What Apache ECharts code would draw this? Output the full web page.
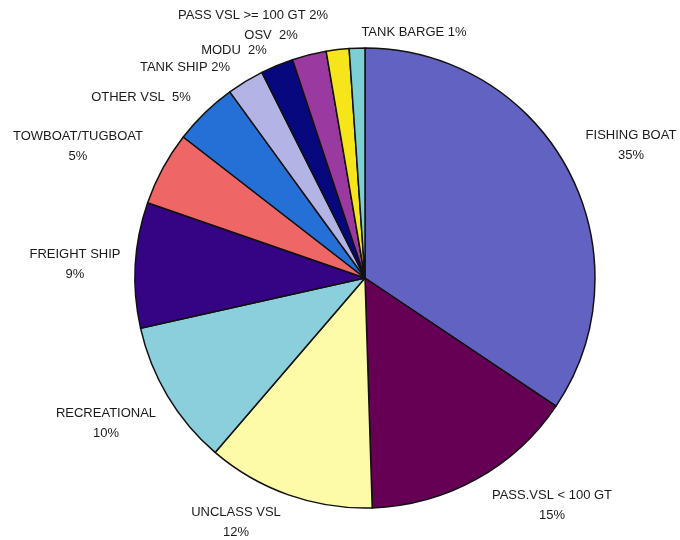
<!DOCTYPE html>
<html>
<head>
<meta charset="utf-8">
<script src="https://cdn.jsdelivr.net/npm/echarts@6/dist/echarts.min.js"></script>
<style>
  html, body { margin: 0; padding: 0; background: #fff; }
  #chart { width: 680px; height: 540px; }
</style>
</head>
<body>
<div id="chart"></div>
<script>
// categories, clockwise from 12 o'clock
const categories = [
  'FISHING BOAT', 'PASS.VSL < 100 GT', 'UNCLASS VSL', 'RECREATIONAL',
  'FREIGHT SHIP', 'TOWBOAT/TUGBOAT', 'OTHER VSL', 'TANK SHIP',
  'MODU', 'OSV', 'PASS VSL >= 100 GT', 'TANK BARGE'
];
// slice shares
const shares = [34.4, 15.1, 11.8, 10.2, 8.8, 5.2, 4.5, 2.6, 2.3, 2.4, 1.6, 1.1];
// percentages printed in the labels
const pctLabels = [35, 15, 12, 10, 9, 5, 5, 2, 2, 2, 2, 1];

const colors = [
  '#6262c2', '#660055', '#fdfaa8', '#8ccfdc', '#340484', '#ef6666',
  '#2570d6', '#b3b3e6', '#08087e', '#9a3aa0', '#f7e51c', '#7ccfd2'
];

// label layout: one-line labels and offsets of the label centre from the pie centre
const oneLine = [false, false, false, false, false, false, true, true, true, true, true, true];
const gapText = ['', '', '', '', '', '', '  ', ' ', '  ', '  ', ' ', ' '];
const labelOffsets = [
  [266, -133], [187, 227], [-129, 244], [-259, 145], [-290, -14], [-287, -132],
  [-224, -181], [-180, -211], [-131, -228], [-94, -243], [-112, -263], [49, -246]
];

const cx = 365, cy = 278, radius = 230;

const chart = echarts.init(document.getElementById('chart'));

chart.setOption({
  backgroundColor: '#ffffff',
  animation: false,
  series: [
    {
      type: 'pie',
      center: [cx, cy],
      radius: radius,
      startAngle: 90,
      clockwise: true,
      avoidLabelOverlap: false,
      silent: true,
      itemStyle: {
        borderColor: '#111',
        borderWidth: 1.5
      },
      label: {
        show: true,
        position: 'outside',
        fontFamily: '"Liberation Sans", Arial, sans-serif',
        fontSize: 13,
        color: '#1a1a1a',
        lineHeight: 20,
        formatter: (p) => {
          const i = p.dataIndex;
          return oneLine[i]
            ? categories[i] + gapText[i] + pctLabels[i] + '%'
            : categories[i] + '\n' + pctLabels[i] + '%';
        }
      },
      labelLine: { show: false },
      labelLayout: (params) => {
        const off = labelOffsets[params.dataIndex];
        return {
          x: cx + off[0],
          y: cy + off[1],
          align: 'center',
          verticalAlign: 'middle'
        };
      },
      data: categories.map((name, i) => ({
        name: name,
        value: shares[i],
        itemStyle: { color: colors[i] }
      }))
    }
  ]
});
</script>
</body>
</html>
